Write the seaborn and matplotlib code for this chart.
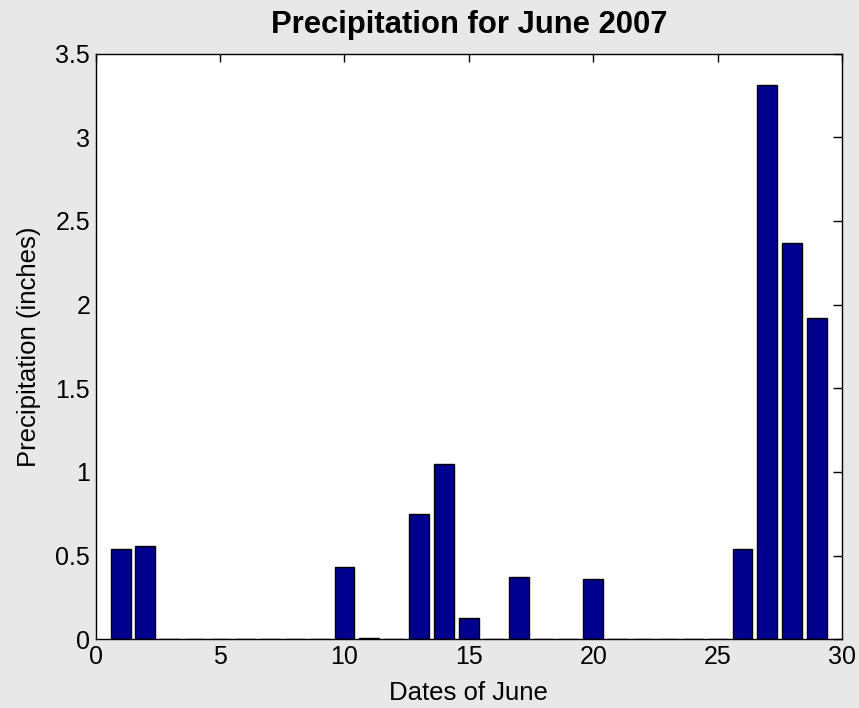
import matplotlib
matplotlib.use("Agg")
import matplotlib.pyplot as plt
import seaborn as sns
import pandas as pd

days = list(range(1, 30))
precip = [0.54, 0.56, 0, 0, 0, 0, 0, 0, 0, 0.43, 0.01, 0, 0.75, 1.05, 0.13,
          0, 0.37, 0, 0, 0.36, 0, 0, 0, 0, 0, 0.54, 3.31, 2.37, 1.92]
x_ticks = [0, 5, 10, 15, 20, 25, 30]
y_ticks = [0, 0.5, 1, 1.5, 2, 2.5, 3, 3.5]
y_tick_labels = ["0", "0.5", "1", "1.5", "2", "2.5", "3", "3.5"]

sns.set_style("white")
plt.rcParams['font.family'] = ['Liberation Sans', 'DejaVu Sans']
plt.rcParams['text.color'] = 'black'
plt.rcParams['axes.labelcolor'] = 'black'

df = pd.DataFrame({"day": days, "precip": precip})

fig = plt.figure(figsize=(8.59, 7.08), dpi=100, facecolor="#E8E8E8")
ax = fig.add_axes([0.1114, 0.097, 0.8688, 0.8274])
sns.barplot(data=df, x="day", y="precip", native_scale=True, color="#00008F",
            saturation=1, edgecolor="black", linewidth=1, width=0.8, ax=ax)

ax.set_xlim(0, 30)
ax.set_ylim(0, 3.5)
ax.set_xticks(x_ticks)
ax.set_xticklabels([str(t) for t in x_ticks])
ax.set_yticks(y_ticks)
ax.set_yticklabels(y_tick_labels)
ax.tick_params(direction="in", width=1, top=True, right=True,
               labelsize=18, colors="black", pad=4)
ax.tick_params(axis="x", length=5.8)
ax.tick_params(axis="y", length=6.8)
for s in ax.spines.values():
    s.set_visible(True)
    s.set_color("black")
    s.set_linewidth(1)
ax.set_xlabel("Dates of June", fontsize=18.5, labelpad=9)
ax.set_ylabel("Precipitation (inches)", fontsize=18.5, labelpad=10)
ax.set_title("Precipitation for June 2007", fontsize=22.3, fontweight="bold",
             pad=15)

fig.savefig("out.png", dpi=100, facecolor=fig.get_facecolor())
